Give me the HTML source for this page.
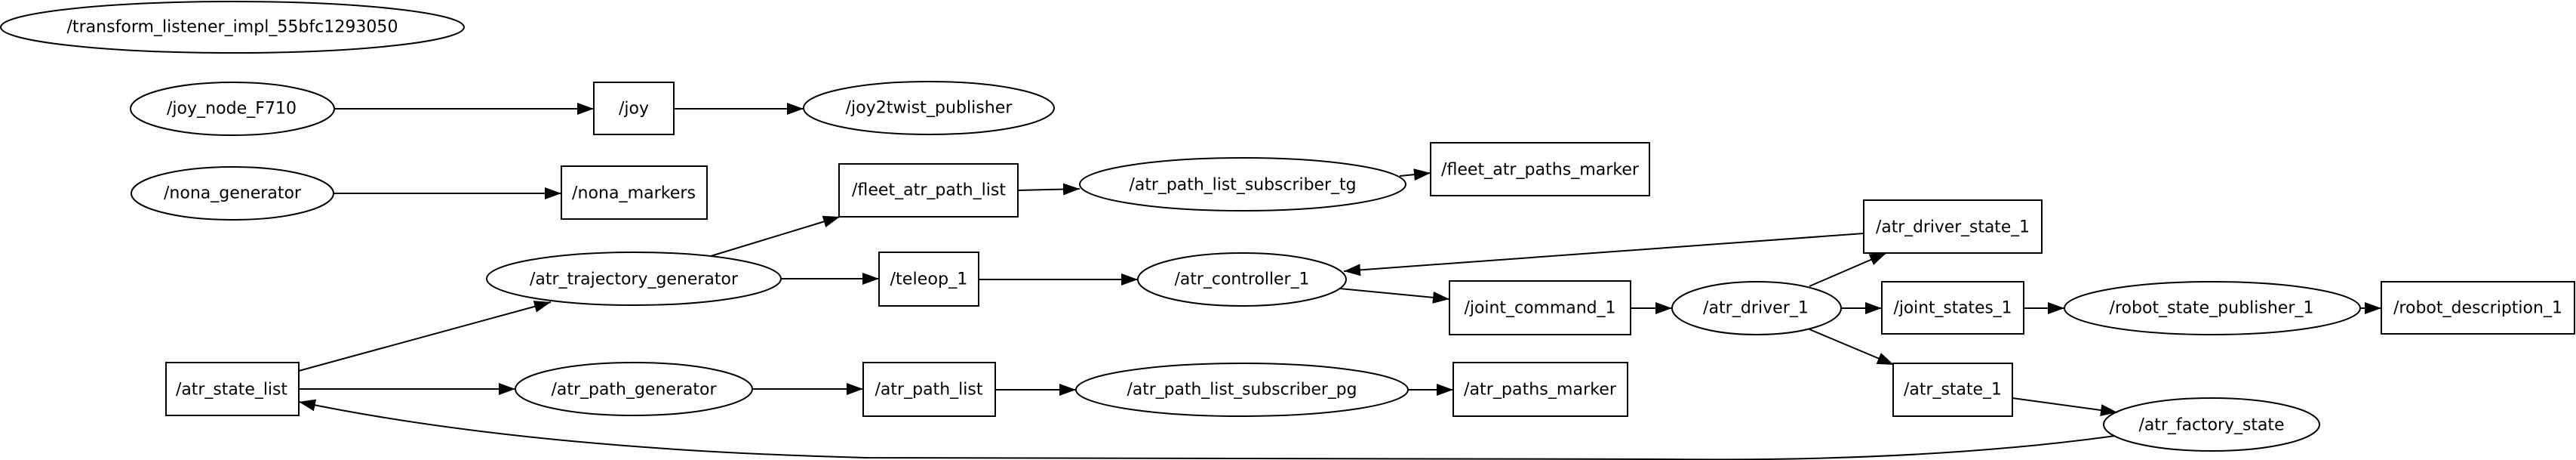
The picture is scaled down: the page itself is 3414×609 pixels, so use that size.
<!DOCTYPE html>
<html><head><meta charset="utf-8"><style>
html,body{margin:0;padding:0;background:#fff;}
svg{display:block;}
text{font-family:"DejaVu Sans","Liberation Sans",sans-serif;font-size:22px;fill:#000;}
</style></head><body>
<svg width="3414" height="609" viewBox="0 0 3414 609" xmlns="http://www.w3.org/2000/svg">
<defs>
<marker id="a" markerUnits="userSpaceOnUse" markerWidth="24" markerHeight="18" refX="22" refY="8" orient="auto">
<path d="M0,0 L22,8 L0,16 Z" fill="#000"/>
</marker>
</defs>
<g fill="none" stroke="#000" stroke-width="2">
<ellipse cx="308" cy="36" rx="307" ry="34"/>
<ellipse cx="308" cy="144" rx="135" ry="35"/>
<rect x="787" y="109" width="106" height="69"/>
<ellipse cx="1231" cy="143" rx="166" ry="35"/>
<ellipse cx="308" cy="256" rx="134" ry="35"/>
<rect x="744" y="220" width="193" height="70"/>
<rect x="1112" y="217" width="237" height="70"/>
<ellipse cx="1647" cy="244" rx="216" ry="35"/>
<rect x="1896" y="189" width="290" height="70"/>
<ellipse cx="840" cy="369" rx="195" ry="35"/>
<rect x="1165" y="334" width="132" height="71"/>
<ellipse cx="1646" cy="370" rx="138" ry="35"/>
<rect x="1921" y="372" width="240" height="71"/>
<rect x="2470" y="265" width="236" height="70"/>
<ellipse cx="2328" cy="408" rx="112" ry="35"/>
<rect x="2494" y="373" width="188" height="69"/>
<ellipse cx="2932" cy="408" rx="196" ry="35"/>
<rect x="3156" y="373" width="256" height="69"/>
<rect x="220" y="480" width="176" height="70"/>
<ellipse cx="840" cy="515" rx="157" ry="35"/>
<rect x="1144" y="480" width="175" height="71"/>
<ellipse cx="1646" cy="516" rx="220" ry="35"/>
<rect x="1926" y="480" width="231" height="71"/>
<rect x="2509" y="481" width="158" height="70"/>
<ellipse cx="2931" cy="562" rx="143" ry="35"/>
</g>
<g fill="none" stroke="#000" stroke-width="2" marker-end="url(#a)">
<path d="M443,144 L787,144"/>
<path d="M893,144 L1065,144"/>
<path d="M442,256 L744,256"/>
<path d="M942,339 L1113,287"/>
<path d="M1036,369 L1165,369"/>
<path d="M396,491 L730,400"/>
<path d="M396,515 L683,515"/>
<path d="M997,515 L1144,515"/>
<path d="M1349,252 L1431,250"/>
<path d="M1855,233 L1896,229"/>
<path d="M1297,370 L1508,370"/>
<path d="M2470,309 L1781,359"/>
<path d="M1776,382 L1921,396"/>
<path d="M2161,408 L2216,408"/>
<path d="M2398,379 L2500,335"/>
<path d="M2440,408 L2494,408"/>
<path d="M2682,408 L2736,408"/>
<path d="M3127,408 L3156,408"/>
<path d="M2398,436 L2510,483"/>
<path d="M1319,516 L1426,516"/>
<path d="M1866,516 L1926,516"/>
<path d="M2667,527 L2806,546"/>
<path d="M2803,577 Q2550,612 2200,608 L1150,606 Q700,595 396,532"/>
</g>
<g text-anchor="middle" dominant-baseline="central" lengthAdjust="spacingAndGlyphs">
<text x="308" y="36" textLength="439" lengthAdjust="spacingAndGlyphs">/transform_listener_impl_55bfc1293050</text>
<text x="307" y="144" textLength="172" lengthAdjust="spacingAndGlyphs">/joy_node_F710</text>
<text x="840" y="144" textLength="40" lengthAdjust="spacingAndGlyphs">/joy</text>
<text x="1231" y="143" textLength="221" lengthAdjust="spacingAndGlyphs">/joy2twist_publisher</text>
<text x="308" y="256" textLength="182" lengthAdjust="spacingAndGlyphs">/nona_generator</text>
<text x="840" y="256" textLength="164" lengthAdjust="spacingAndGlyphs">/nona_markers</text>
<text x="1231" y="252" textLength="204" lengthAdjust="spacingAndGlyphs">/fleet_atr_path_list</text>
<text x="1647" y="245" textLength="301" lengthAdjust="spacingAndGlyphs">/atr_path_list_subscriber_tg</text>
<text x="2041" y="225" textLength="262" lengthAdjust="spacingAndGlyphs">/fleet_atr_paths_marker</text>
<text x="840" y="370" textLength="276" lengthAdjust="spacingAndGlyphs">/atr_trajectory_generator</text>
<text x="1231" y="370" textLength="103" lengthAdjust="spacingAndGlyphs">/teleop_1</text>
<text x="1646" y="370" textLength="179" lengthAdjust="spacingAndGlyphs">/atr_controller_1</text>
<text x="2041" y="408" textLength="201" lengthAdjust="spacingAndGlyphs">/joint_command_1</text>
<text x="2588" y="301" textLength="204" lengthAdjust="spacingAndGlyphs">/atr_driver_state_1</text>
<text x="2327" y="408" textLength="140" lengthAdjust="spacingAndGlyphs">/atr_driver_1</text>
<text x="2588" y="408" textLength="157" lengthAdjust="spacingAndGlyphs">/joint_states_1</text>
<text x="2931" y="408" textLength="271" lengthAdjust="spacingAndGlyphs">/robot_state_publisher_1</text>
<text x="3284" y="408" textLength="224" lengthAdjust="spacingAndGlyphs">/robot_description_1</text>
<text x="307" y="516" textLength="148" lengthAdjust="spacingAndGlyphs">/atr_state_list</text>
<text x="840" y="516" textLength="219" lengthAdjust="spacingAndGlyphs">/atr_path_generator</text>
<text x="1231" y="516" textLength="143" lengthAdjust="spacingAndGlyphs">/atr_path_list</text>
<text x="1646" y="516" textLength="305" lengthAdjust="spacingAndGlyphs">/atr_path_list_subscriber_pg</text>
<text x="2041" y="516" textLength="202" lengthAdjust="spacingAndGlyphs">/atr_paths_marker</text>
<text x="2588" y="516" textLength="130" lengthAdjust="spacingAndGlyphs">/atr_state_1</text>
<text x="2931" y="563" textLength="193" lengthAdjust="spacingAndGlyphs">/atr_factory_state</text>
</g>
</svg>
</body></html>
